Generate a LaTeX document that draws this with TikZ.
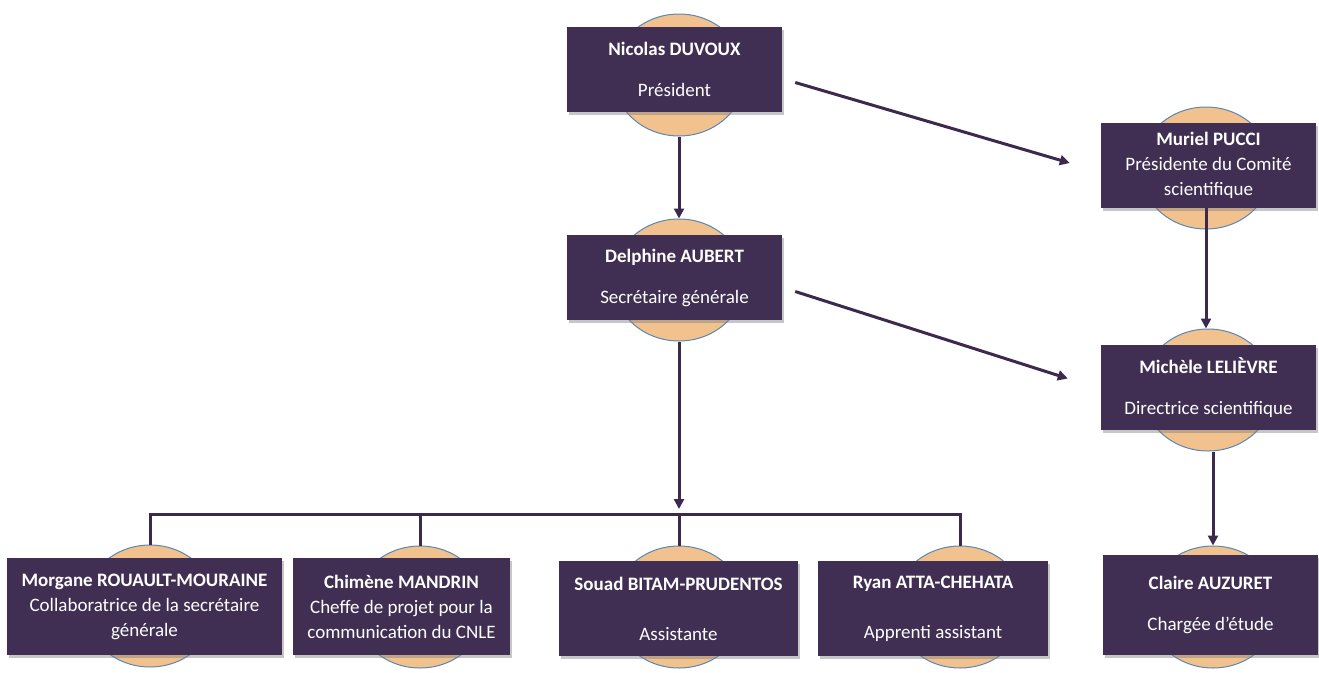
\documentclass[tikz,border=0pt]{standalone}
\usepackage{fontspec}
\setmainfont{Carlito}
\usetikzlibrary{arrows.meta,shadows,shapes.geometric}
\definecolor{boxfill}{RGB}{64,47,82}
\definecolor{discfill}{RGB}{241,194,142}
\definecolor{discline}{RGB}{90,135,180}
\definecolor{linkcol}{RGB}{60,42,78}
\begin{document}
\begin{tikzpicture}[x=1pt,y=-1pt,
  box/.style={draw=none, fill=boxfill, text=white, align=center, inner sep=0pt,
    drop shadow={opacity=0.45, shadow xshift=1.5pt, shadow yshift=-2.5pt},
    font=\fontsize{19}{25}\selectfont},
  disc/.style={ellipse, fill=discfill, draw=discline, line width=1pt, inner sep=0pt,
    minimum width=132, minimum height=122},
  link/.style={draw=linkcol, line width=3pt},
  arr/.style={link, -{Triangle[length=10pt,width=10pt]}}]
\useasboundingbox (0,0) rectangle (1319,672);

% discs
\node[disc] (nicD) at (679,75) {};
\node[disc] (murD) at (1206,168) {};
\node[disc] (delD) at (679,280) {};
\node[disc] (micD) at (1208,390) {};
\node[disc] (morD) at (150,606) {};
\node[disc] (chiD) at (420,607) {};
\node[disc] (souD) at (679,607) {};
\node[disc] (ryaD) at (960,607) {};
\node[disc] (claD) at (1213,607) {};

% boxes
\node[box, minimum width=215, minimum height=85] (nic) at (674.5,69.5)
  {\textbf{Nicolas DUVOUX}\\[16pt]Président};
\node[box, minimum width=215, minimum height=85] (mur) at (1208.5,165.5)
  {\textbf{Muriel PUCCI}\\Présidente du Comité\\scientifique};
\node[box, minimum width=215, minimum height=85] (del) at (674.5,277.5)
  {\textbf{Delphine AUBERT}\\[16pt]Secrétaire générale};
\node[box, minimum width=215, minimum height=85] (mic) at (1208.5,387.5)
  {\textbf{Michèle LELIÈVRE}\\[16pt]Directrice scientifique};
\node[box, minimum width=275, minimum height=97] (mor) at (144.5,606.5)
  {\textbf{Morgane ROUAULT-MOURAINE}\\Collaboratrice de la secrétaire\\générale};
\node[box, minimum width=217, minimum height=97] (chi) at (401.5,606.5)
  {\textbf{Chimène MANDRIN}\\Cheffe de projet pour la\\communication du CNLE};
\node[box, minimum width=239, minimum height=95] (sou) at (678.5,608.5)
  {\textbf{Souad BITAM-PRUDENTOS}\\[25pt]Assistante};
\node[box, minimum width=230, minimum height=95] (rya) at (933,608.5)
  {\textbf{Ryan ATTA-CHEHATA}\\[25pt]Apprenti assistant};
\node[box, minimum width=215, minimum height=100] (cla) at (1210.5,605)
  {\textbf{Claire AUZURET}\\[16pt]Chargée d’étude};

% connectors
\draw[arr] (nicD.south) -- (delD.north);
\draw[arr] ([xshift=13pt,yshift=-13pt]nic.east) -- ([xshift=-31pt,yshift=2.5pt]mur.west);
\draw[arr] ([xshift=13pt,yshift=-14pt]del.east) -- ([xshift=-33pt,yshift=9pt]mic.west);
\draw[arr] (murD.north |- mur.south) -- (murD.north |- micD.north);
\draw[arr] (claD.north |- micD.south) -- (claD.north);

\coordinate (bar) at (679,514);
\coordinate (tip) at (679,509);
\draw[arr] (delD.south) -- (tip);
\draw[link] (morD.north) |- (ryaD.north |- bar) -- (ryaD.north);
\draw[link] (chiD.north) -- (chiD.north |- bar);
\draw[link] (souD.north) -- (souD.north |- bar);
\end{tikzpicture}
\end{document}
